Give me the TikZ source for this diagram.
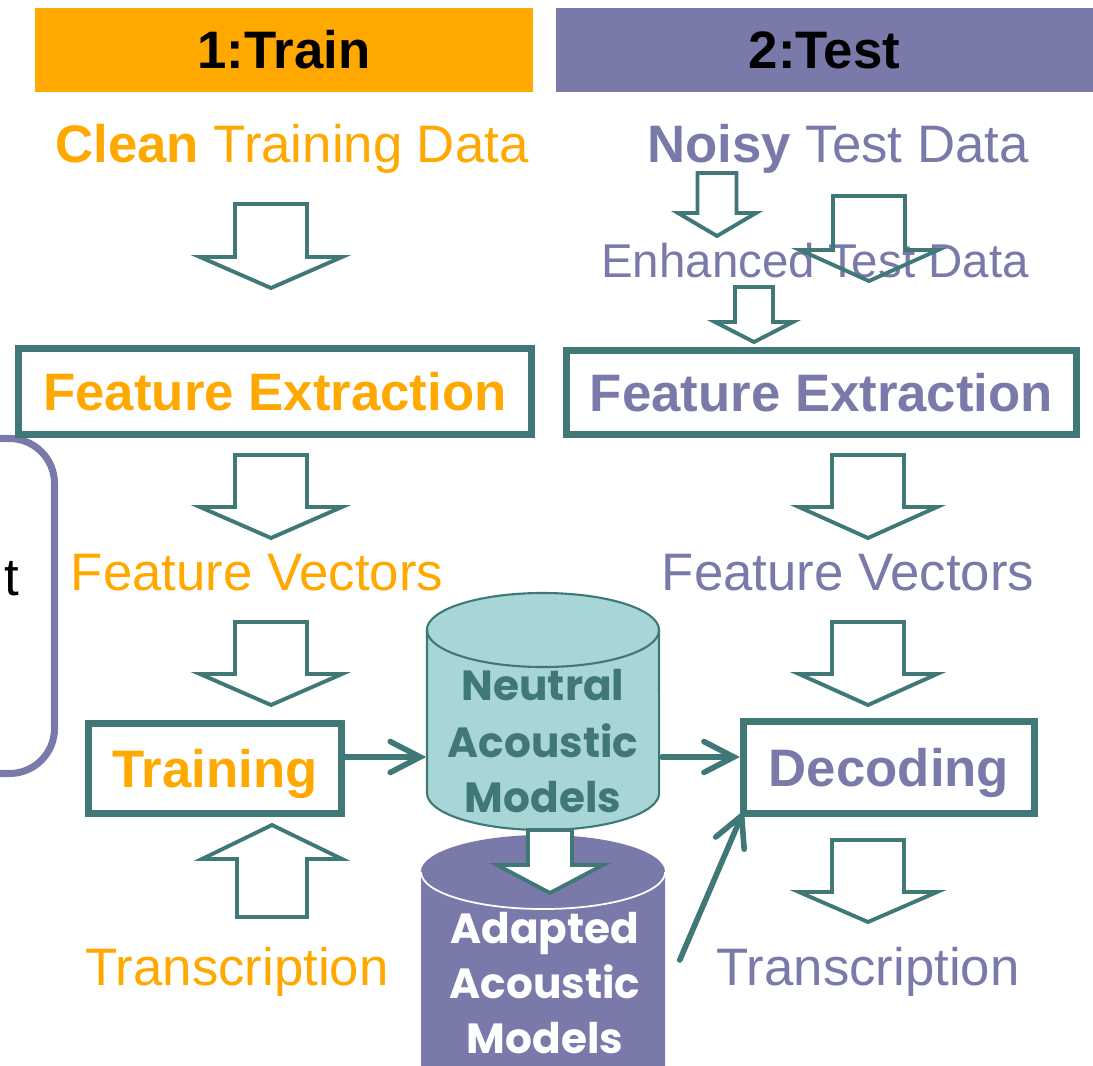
\documentclass[tikz,border=0pt]{standalone}
\usepackage{fontspec}
\setmainfont{Liberation Sans}
\newfontfamily\cylfont{Poppins}
\usetikzlibrary{arrows.meta}

\definecolor{trainC}{RGB}{255,168,0}
\definecolor{testC}{RGB}{122,122,170}
\definecolor{tealC}{RGB}{64,120,120}
\definecolor{cyanC}{RGB}{168,213,213}

% hollow block arrow: [options]{cx}{y of tail}{y of wings}{y of tip}{shaft half width}{wing half width}
\newcommand{\blockarrow}[7][]{%
  \draw[barrow,#1] ({#2-#6},#3) -- ({#2+#6},#3) -- ({#2+#6},#4) -- ({#2+#7},#4)
    -- (#2,#5) -- ({#2-#7},#4) -- ({#2-#6},#4) -- cycle;}

\tikzset{
  txt/.style={inner sep=0pt, anchor=base, font=\fontsize{15pt}{18pt}\selectfont},
  stagebox/.style={draw=tealC, line width=2pt, fill=white, inner sep=0pt,
    text height=10.74pt, text depth=0pt, font=\fontsize{15pt}{18pt}\selectfont\bfseries},
  header/.style={inner sep=0pt, text=black, text height=10.74pt, text depth=0pt,
    font=\fontsize{15pt}{18pt}\selectfont\bfseries},
  barrow/.style={draw=tealC, line width=1.1pt, miter limit=10},
  conn/.style={draw=tealC, line width=1.6pt, line cap=round,
    -{Straight Barb[length=8.5pt, width=8.8pt, line width=1.6pt, line cap=round]}},
  cyltxt/.style={inner sep=0pt, anchor=base, font=\fontsize{12pt}{15pt}\cylfont\bfseries},
}

\begin{document}
\begin{tikzpicture}[x=0.01cm, y=-0.01cm]
\useasboundingbox (0,0) rectangle (1093,1066);
\begin{scope}
\clip (0,0) rectangle (1093,1066);

% stage headers
\node[header, fill=trainC, minimum width=4.98cm, minimum height=0.84cm] (trainhead) at (284,50) {1:Train};
\node[header, fill=testC, minimum width=5.37cm, minimum height=0.84cm] (testhead) at (824.5,50) {2:Test};

% partly visible panel on the left
\draw[testC, line width=2pt, rounded corners=0.45cm]
  (-100,438.5) -- (54.5,438.5) -- (54.5,773.5) -- (-100,773.5);
\node[txt, text=black] (cut) at (12,595) {t};

% training column
\node[txt, text=trainC] (clean) at (292,162) {\textbf{Clean} Training Data};
\blockarrow{271}{204}{257}{288}{36}{71}
\node[stagebox, text=trainC, minimum width=5.13cm, minimum height=0.86cm] (fetrain) at (275,391.5) {Feature Extraction};
\blockarrow{271}{455}{507}{538}{36}{71}
\node[txt, text=trainC] (fvtrain) at (257,590) {Feature Vectors};
\blockarrow{271}{622}{674}{705}{36}{71}
\node[stagebox, text=trainC, minimum width=2.53cm, minimum height=0.90cm] (training) at (215,768.5) {Training};
\blockarrow{272}{917}{859}{825}{35}{70}
\node[txt, text=trainC] (transtrain) at (237,985) {Transcription};

% test column
\node[txt, text=testC] (noisy) at (838,162) {\textbf{Noisy} Test Data};
\node[txt, text=testC, font=\fontsize{13.5pt}{16pt}\selectfont] (enhanced) at (815,277) {Enhanced Test Data};
\blockarrow{717}{173}{213}{236}{19.5}{39}
\blockarrow{869}{196}{250}{281}{36}{69}
\blockarrow{754}{287}{322}{342}{19}{39}
\node[stagebox, text=testC, minimum width=5.10cm, minimum height=0.84cm] (fetest) at (821.5,392.5) {Feature Extraction};
\blockarrow{868}{455}{507}{538}{36}{69}
\node[txt, text=testC] (fvtest) at (848,590) {Feature Vectors};
\blockarrow{868}{622}{674}{705}{36}{69}
\node[stagebox, text=testC, minimum width=2.91cm, minimum height=0.92cm] (decoding) at (889,767.5) {Decoding};
\blockarrow{868}{840}{892}{922}{36}{69}
\node[txt, text=testC] (transtest) at (868,985) {Transcription};

% adapted acoustic models (lower cylinder, runs off the bottom)
\fill[testC] (421,872) -- (421,1100) arc[start angle=180, end angle=360, x radius=1.22cm, y radius=0.37cm]
  -- (665,872) arc[start angle=0, end angle=180, x radius=1.22cm, y radius=0.37cm] -- cycle;
\draw[white, line width=0.5pt] (421,872) arc[start angle=180, end angle=360, x radius=1.22cm, y radius=0.37cm];
\node[inner sep=0pt, minimum width=2.44cm, minimum height=2.3cm] (adapted) at (543,950) {};
\node[cyltxt, text=white] at (545,943) {Adapted};
\node[cyltxt, text=white] at (545,998) {Acoustic};
\node[cyltxt, text=white] at (545,1053) {Models};

% neutral acoustic models (upper cylinder)
\filldraw[fill=cyanC, draw=tealC, line width=0.6pt]
  (427,630) -- (427,793) arc[start angle=180, end angle=360, x radius=1.16cm, y radius=0.37cm]
  -- (659,630) arc[start angle=0, end angle=180, x radius=1.16cm, y radius=0.37cm] -- cycle;
\draw[tealC, line width=0.6pt] (427,630) arc[start angle=180, end angle=360, x radius=1.16cm, y radius=0.37cm];
\node[inner sep=0pt, minimum width=2.32cm, minimum height=2.38cm] (neutral) at (543,711) {};
\node[cyltxt, text=tealC] at (543,700) {Neutral};
\node[cyltxt, text=tealC] at (543,757) {Acoustic};
\node[cyltxt, text=tealC] at (543,812) {Models};

% adaptation step between the two model sets
\blockarrow[fill=white]{550}{830}{865}{893}{22}{53}

% connectors
\coordinate (amlevel) at (0,757);
\coordinate (adlevel) at (0,960);
\draw[conn] (training.east |- amlevel) -- (neutral.west |- amlevel);
\draw[conn] ([xshift=0.6pt]neutral.east |- amlevel) -- (decoding.west |- amlevel);
\draw[conn] ([xshift=1.4mm]adapted.east |- adlevel) -- ([xshift=1.2pt,yshift=2pt]decoding.south west);
\end{scope}
\end{tikzpicture}
\end{document}
